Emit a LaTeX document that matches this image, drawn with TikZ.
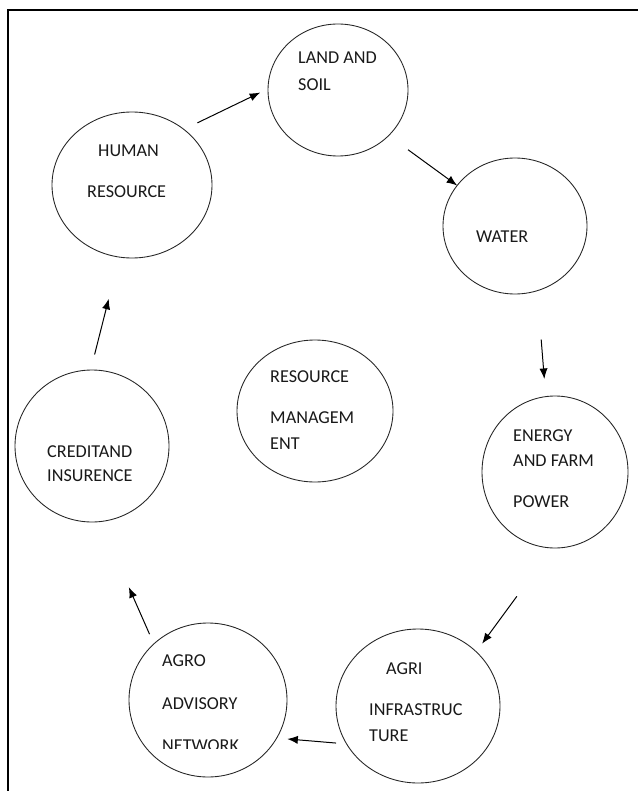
\documentclass[tikz,border=0pt]{standalone}
\usepackage{fontspec}
\setmainfont{Carlito}
\usetikzlibrary{shapes.geometric,arrows.meta}

\begin{document}
\begin{tikzpicture}[x=0.03cm,y=-0.03cm,
    circ/.style 2 args={draw=black!85,line width=0.75pt,ellipse,inner sep=0pt,outer sep=0pt,minimum width=#1,minimum height=#2},
    lbl/.style={anchor=base west,inner sep=0pt,text=black!90,font=\fontsize{15.5}{18}\selectfont},
    arr/.style={-{Latex[length=9pt,width=7pt]},line width=0.85pt}]
  \useasboundingbox (0,0) rectangle (638,791);
  % page frame
  \draw[line width=2.2pt] (8,791) -- (8,10) -- (638,10);

  % circles
  \node[circ={4.2cm}{3.96cm}] (land) at (338,90) {};
  \node[circ={4.8cm}{4.38cm}] (hr) at (132,185) {};
  \node[circ={4.32cm}{4.08cm}] (water) at (515,226) {};
  \node[circ={4.38cm}{4.56cm}] (energy) at (555,472) {};
  \node[circ={4.68cm}{4.26cm}] (mgmt) at (315,411) {};
  \node[circ={4.62cm}{4.56cm}] (credit) at (92,446) {};
  \node[circ={4.74cm}{4.62cm}] (agro) at (208,700) {};
  \node[circ={4.92cm}{4.62cm}] (agri) at (418,706) {};

  % texts
  \node[lbl] (land1) at (298,64) {LAND AND};
  \node[lbl] (land2) at (298,91) {SOIL};
  \node[lbl] (hr1) at (98,157) {HUMAN};
  \node[lbl] (hr2) at (87,198) {RESOURCE};
  \node[lbl] (water1) at (476,242) {WATER};
  \node[lbl] (energy1) at (513,441) {ENERGY};
  \node[lbl] (energy2) at (513,466) {AND FARM};
  \node[lbl] (energy3) at (513,507) {POWER};
  \node[lbl] (mgmt1) at (270,382) {RESOURCE};
  \node[lbl] (mgmt2) at (270,423) {MANAGEM};
  \node[lbl] (mgmt3) at (270,449) {ENT};
  \node[lbl] (credit1) at (47,457) {CREDITAND};
  \node[lbl] (credit2) at (47,481) {INSURENCE};
  \node[lbl] (agro1) at (162,666) {AGRO};
  \node[lbl] (agro2) at (162,709) {ADVISORY};
  \begin{scope}
    \clip (150,728) rectangle (300,748);
    \node[lbl] (agro3) at (162,751) {NETWORK};
  \end{scope}
  \node[lbl] (agri1) at (386,674) {AGRI};
  \node[lbl] (agri2) at (369,715) {INFRASTRUC};
  \node[lbl] (agri3) at (369,741) {TURE};

  % cycle arrows
  \draw[arr,shorten <=0.45cm,shorten >=0.26cm] (hr.47.5) -- (land.179);
  \draw[arr,shorten <=0.72cm] (land.-42) -- (water.145);
  \draw[arr,shorten <=1.47cm,shorten >=0.53cm] (water.-71) -- (energy.97);
  \draw[arr,shorten <=1.8cm,shorten >=0.3cm] (energy.-92) -- (agri.43);
  \draw[arr,shorten <=0.32cm,shorten >=0.32cm] (agri.208) -- (agro.-29);
  \draw[arr,shorten <=0.32cm,shorten >=2.15cm] (agro.134) -- (credit.-84);
  \draw[arr,shorten <=0.48cm,shorten >=1.29cm] (credit.91) -- (hr.-100);
\end{tikzpicture}
\end{document}
